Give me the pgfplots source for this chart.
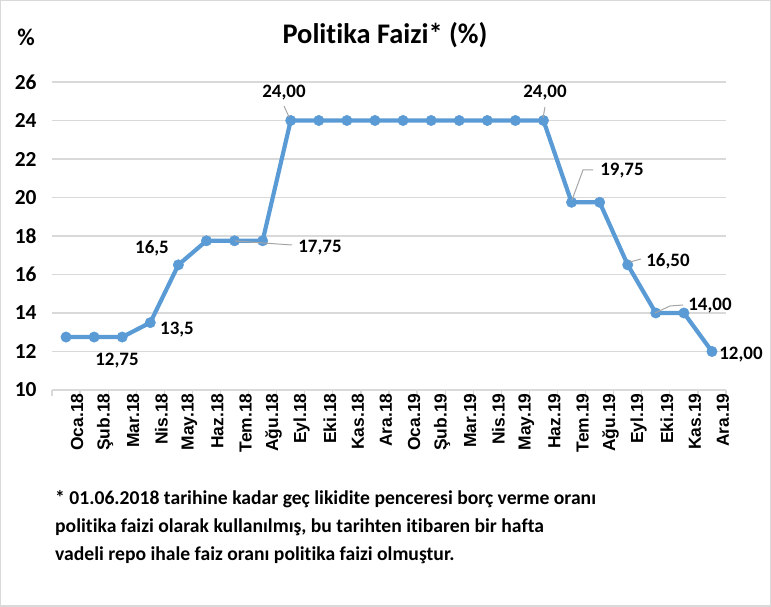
\documentclass[border=0pt]{standalone}
\usepackage{pgfplots}
\pgfplotsset{compat=1.18}
\usepackage{fontspec}
\setmainfont{Carlito}[Ligatures=NoCommon, RawFeature={-clig}]
\newfontfamily\arialf{Liberation Sans}
\definecolor{serie}{HTML}{5B9BD5}
\definecolor{gridc}{HTML}{D9D9D9}
\definecolor{leader}{HTML}{A6A6A6}
\begin{document}
\begin{tikzpicture}
\begin{scope}[x=1bp,y=1bp]
\useasboundingbox (0,0) rectangle (771,607);
\draw[gridc, line width=1.5bp] (0.75,0.75) rectangle (770.25,606.25);
\end{scope}
\begin{axis}[
  at={(52bp,217bp)}, anchor=south west,
  scale only axis, width=674bp, height=308bp,
  xmin=-0.5, xmax=23.5, ymin=10, ymax=26,
  axis x line*=bottom, axis y line*=left,
  y axis line style={draw=none},
  x axis line style={draw=gridc, line width=1.3bp},
  ytick={10,12,...,26},
  ymajorgrids, grid style={gridc, line width=1.3bp},
  major y tick style={draw=none},
  xtick={0,...,23},
  xticklabels={Oca.18,Şub.18,Mar.18,Nis.18,May.18,Haz.18,Tem.18,Ağu.18,Eyl.18,Eki.18,Kas.18,Ara.18,Oca.19,Şub.19,Mar.19,Nis.19,May.19,Haz.19,Tem.19,Ağu.19,Eyl.19,Eki.19,Kas.19,Ara.19},
  major x tick style={draw=none},
  minor xtick={-0.5,0.5,...,23.5},
  minor x tick style={draw=gridc, line width=1.3bp},
  minor tick length=6bp, major tick length=0bp,
  xtick align=outside,
  xticklabel style={rotate=90, anchor=east, font=\arialf\bfseries\fontsize{17.5}{17.5}\selectfont, yshift=-11bp},
  yticklabel style={font=\bfseries\fontsize{21.5}{21.5}\selectfont, xshift=-12bp},
  /pgf/number format/assume math mode=true,
  clip=false,
]
\addplot[serie, line width=4.2bp, line join=round, mark=*, mark size=5.2bp, mark options={solid, fill=serie, draw=serie, line width=0.5bp}]
coordinates {
(0,12.75) (1,12.75) (2,12.75) (3,13.5) (4,16.5) (5,17.75) (6,17.75) (7,17.75)
(8,24) (9,24) (10,24) (11,24) (12,24) (13,24) (14,24) (15,24) (16,24) (17,24)
(18,19.75) (19,19.75) (20,16.5) (21,14) (22,14) (23,12)
};
\end{axis}
\begin{scope}[x=1bp,y=1bp]
% titles
\node[font=\bfseries\fontsize{28.5}{28.5}\selectfont, anchor=base] at (385,607-44) {Politika Faizi* (\%)};
\node[font=\bfseries\fontsize{24}{24}\selectfont, anchor=base] at (26,607-46) {\%};
% leader lines
\begin{scope}[leader, line width=1bp]
\draw (235,607-241) -- (292,607-245);
\draw (284,607-106) -- (289,607-117);
\draw (545,607-107) -- (543,607-118);
\draw (572,607-200) -- (583,607-170) -- (593,607-170);
\draw (630,607-262) -- (641,607-259);
\draw (655,607-313) -- (670,607-306) -- (683,607-305);
\end{scope}
% data labels
\begin{scope}[font=\bfseries\fontsize{19}{19}\selectfont, inner sep=0pt]
\node at (117,607-361) {12,75};
\node at (177,607-330) {13,5};
\node at (152,607-248) {16,5};
\node at (320,607-247.5) {17,75};
\node at (284,607-92.5) {24,00};
\node at (545,607-92.5) {24,00};
\node at (622,607-171) {19,75};
\node at (668,607-261) {16,50};
\node at (710,607-306) {14,00};
\node at (741,607-355) {12,00};
\end{scope}
% footnote
\begin{scope}[font=\bfseries\fontsize{19.7}{19.7}\selectfont, inner sep=0pt]
\node[anchor=base west] at (55,607-505) {* 01.06.2018 tarihine kadar geç likidite penceresi borç verme oranı};
\node[anchor=base west] at (55,607-533) {politika faizi olarak kullanılmış, bu tarihten itibaren bir hafta};
\node[anchor=base west] at (55,607-561) {vadeli repo ihale faiz oranı politika faizi olmuştur.};
\end{scope}
\end{scope}
\end{tikzpicture}
\end{document}
